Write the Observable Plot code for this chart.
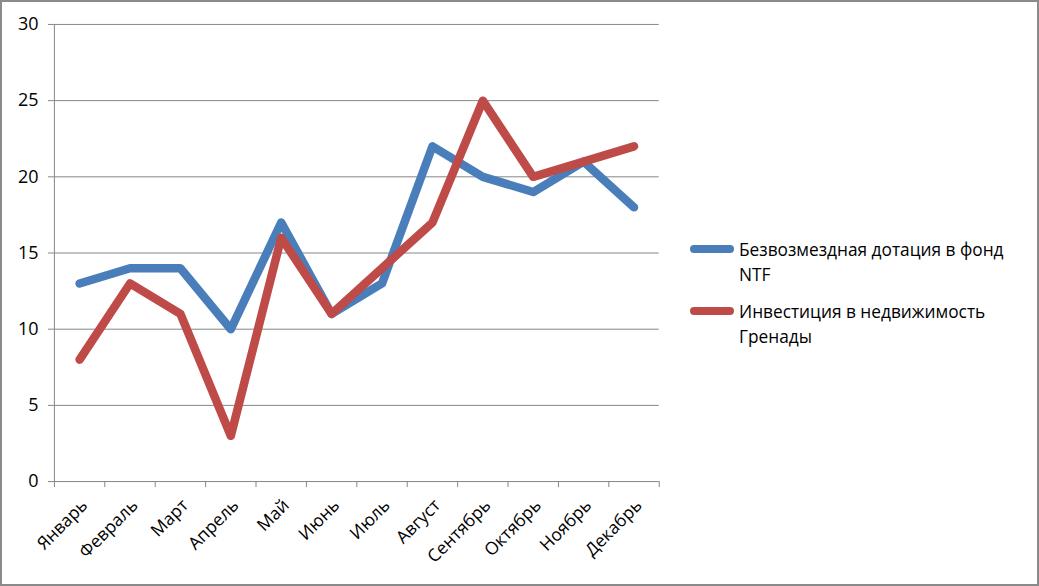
<!DOCTYPE html>
<html><head><meta charset="utf-8">
<script src="https://cdn.jsdelivr.net/npm/d3@7"></script>
<script src="https://cdn.jsdelivr.net/npm/@observablehq/plot@0.6"></script>
<style>
html,body{margin:0;padding:0;background:#fff;}
#wrap{position:relative;width:1039px;height:586px;box-sizing:border-box;border:2px solid #8a8a8a;overflow:hidden;}
#chart{position:absolute;left:-2px;top:-2px;}
.leg{position:absolute;font-family:"Open Sans","Noto Sans",sans-serif;font-size:17.3px;line-height:25px;color:#000;}
.sw{position:absolute;width:44px;height:8px;border-radius:4px;}
</style></head>
<body><div id="wrap"><div id="chart"></div>
<div class="sw" style="left:688px;top:243px;background:#4A7EBB"></div>
<div class="leg" style="left:737px;top:235px;">Безвозмездная дотация в фонд<br>NTF</div>
<div class="sw" style="left:688px;top:305px;background:#BE4B48"></div>
<div class="leg" style="left:737px;top:297px;">Инвестиция в недвижимость<br>Гренады</div>
</div>
<script>
const months = ["Январь","Февраль","Март","Апрель","Май","Июнь","Июль","Август","Сентябрь","Октябрь","Ноябрь","Декабрь"];
const grant = [13,14,14,10,17,11,13,22,20,19,21,18];
const realty = [8,13,11,3,16,11,14,17,25,20,21,22];
const yTicks = [0,5,10,15,20,25,30];
const seriesNames = ["Безвозмездная дотация в фонд NTF","Инвестиция в недвижимость Гренады"];

const rows = [];
months.forEach((m,i)=>{
  rows.push({i, month:m, value:grant[i], series:seriesNames[0]});
});
months.forEach((m,i)=>{
  rows.push({i, month:m, value:realty[i], series:seriesNames[1]});
});
const boundaries = d3.range(months.length+1).map(k=>k-0.5);
const centers = d3.range(months.length);

const chart = Plot.plot({
  width:1039, height:586,
  marginLeft:54, marginRight:379, marginTop:24, marginBottom:104,
  style:{fontFamily:"'Open Sans','Noto Sans',sans-serif", background:"transparent"},
  x:{type:"linear", domain:[-0.5, months.length-0.5]},
  y:{domain:[0,30]},
  color:{domain:seriesNames, range:["#4A7EBB","#BE4B48"]},
  marks:[
    Plot.gridY(yTicks,{stroke:"#868686", strokeOpacity:1, strokeWidth:1}),
    Plot.ruleX([-0.5],{stroke:"#868686"}),
    Plot.axisY(yTicks,{tickSize:6, tickPadding:10, stroke:"#868686", fontSize:18, fill:"#000", tickFormat:d=>d, label:null}),
    Plot.axisX(boundaries,{tickSize:6, stroke:"#868686", tickFormat:()=>"", label:null}),
    Plot.axisX(centers,{tickSize:0, tickPadding:21, tickRotate:-45, fontSize:17.5, fill:"#000", tickFormat:d=>months[d], label:null, dx:5}),
    Plot.line(rows,{x:"i", y:"value", z:"series", stroke:"series", strokeWidth:8.5, strokeLinecap:"round", strokeLinejoin:"round"})
  ]
});
document.getElementById("chart").appendChild(chart);
</script></body></html>
